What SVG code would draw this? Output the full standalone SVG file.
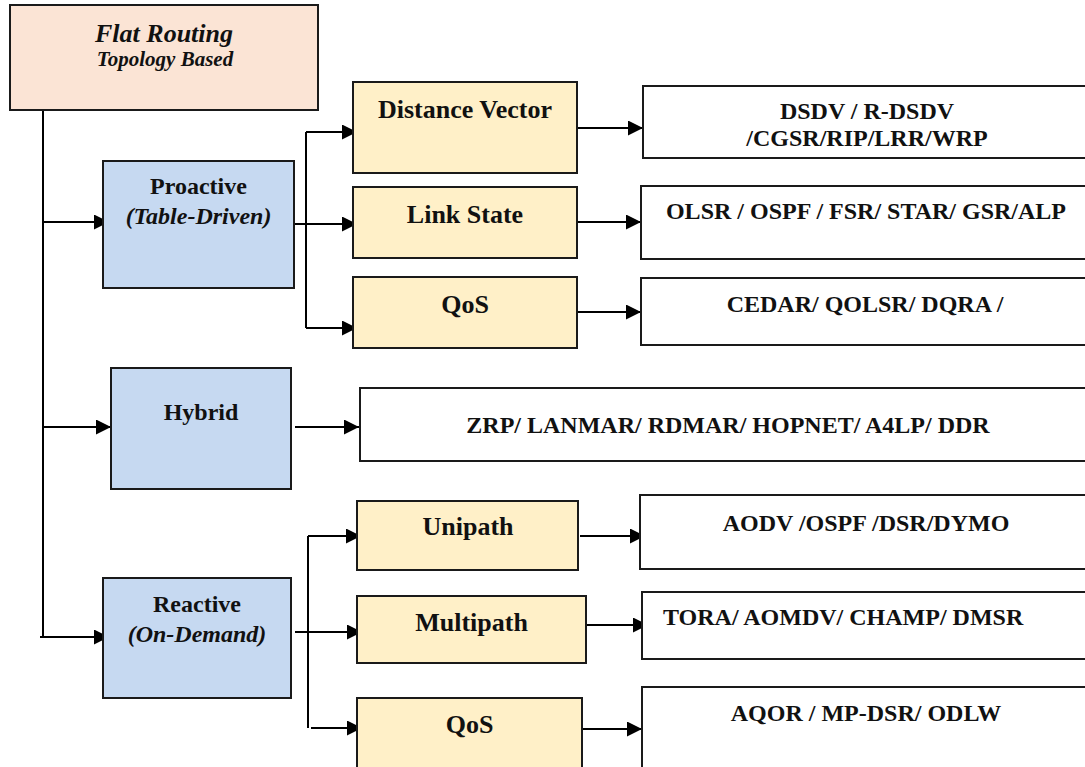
<svg xmlns="http://www.w3.org/2000/svg" width="1085" height="767" viewBox="0 0 1085 767">
  <style>
    .box { stroke: #1a1a1a; stroke-width: 2; }
    .root { fill: #fbe4d5; }
    .cat { fill: #c6d9f1; }
    .sub { fill: #fff0c8; }
    .list { fill: #ffffff; }
    text { font-family: "Liberation Serif", "Times New Roman", serif; font-weight: bold; fill: #111; text-anchor: middle; }
    .it { font-style: italic; }
    .t24 { font-size: 24px; }
    .t26 { font-size: 26px; }
    .t21 { font-size: 21px; }
    .wire { fill: none; stroke: #000; stroke-width: 2; }
    .arrow { fill: none; stroke: #000; stroke-width: 2; marker-end: url(#head); }
  </style>
  <defs>
    <marker id="head" markerUnits="userSpaceOnUse" markerWidth="15" markerHeight="15" refX="15" refY="7.5" orient="auto">
      <path d="M0,0 L15,7.5 L0,15 z" fill="#000"/>
    </marker>
  </defs>

  <rect width="1085" height="767" fill="#ffffff"/>

  <!-- connectors -->
  <g id="connectors">
    <!-- trunk from the root -->
    <path class="wire" d="M43,110 V637"/>
    <path class="arrow" d="M43,222 H109"/>
    <path class="arrow" d="M43,427 H111"/>
    <path class="arrow" d="M40,637 H109"/>
    <!-- proactive branch -->
    <path class="wire" d="M294,224 H306 M306,132 V328"/>
    <path class="arrow" d="M306,132 H357"/>
    <path class="arrow" d="M306,224 H357"/>
    <path class="arrow" d="M306,328 H357"/>
    <path class="arrow" d="M577,128 H643"/>
    <path class="arrow" d="M577,222 H641"/>
    <path class="arrow" d="M577,312 H641"/>
    <!-- hybrid -->
    <path class="arrow" d="M295,427 H359"/>
    <!-- reactive branch -->
    <path class="wire" d="M308,536 V728"/>
    <path class="arrow" d="M308,536 H361"/>
    <path class="arrow" d="M295,632 H362"/>
    <path class="arrow" d="M311,728 H362"/>
    <path class="arrow" d="M580,536 H645"/>
    <path class="arrow" d="M583,625 H648"/>
    <path class="arrow" d="M578,729 H642"/>
  </g>

  <g id="flat-routing">
    <rect class="box root" x="10" y="5" width="308" height="105"/>
    <text class="it t26" x="164" y="42">Flat Routing</text>
    <text class="it t21" x="165" y="66">Topology Based</text>
  </g>

  <g id="proactive">
    <rect class="box cat" x="103" y="161" width="191" height="127"/>
    <text class="t24" x="198.5" y="194">Proactive</text>
    <text class="it t24" x="198.5" y="224">(Table-Driven)</text>
  </g>

  <g id="hybrid">
    <rect class="box cat" x="111" y="368" width="180" height="121"/>
    <text class="t24" x="201" y="420">Hybrid</text>
  </g>

  <g id="reactive">
    <rect class="box cat" x="103" y="578" width="188" height="120"/>
    <text class="t24" x="197" y="612">Reactive</text>
    <text class="it t24" x="197" y="642">(On-Demand)</text>
  </g>

  <g id="distance-vector">
    <rect class="box sub" x="353" y="82" width="224" height="91"/>
    <text class="t26" x="465" y="118">Distance Vector</text>
  </g>

  <g id="link-state">
    <rect class="box sub" x="353" y="187" width="224" height="71"/>
    <text class="t26" x="465" y="223">Link State</text>
  </g>

  <g id="qos-proactive">
    <rect class="box sub" x="353" y="277" width="224" height="71"/>
    <text class="t26" x="465" y="313">QoS</text>
  </g>

  <g id="unipath">
    <rect class="box sub" x="357" y="501" width="221" height="69"/>
    <text class="t26" x="468" y="535">Unipath</text>
  </g>

  <g id="multipath">
    <rect class="box sub" x="357" y="596" width="229" height="67"/>
    <text class="t26" x="471.5" y="631">Multipath</text>
  </g>

  <g id="qos-reactive">
    <rect class="box sub" x="357" y="698" width="225" height="80"/>
    <text class="t26" x="469.5" y="733">QoS</text>
  </g>

  <g id="dv-protocols">
    <rect class="box list" x="643" y="86" width="450" height="72"/>
    <text class="t24" x="867" y="119">DSDV / R-DSDV</text>
    <text class="t24" x="867" y="146">/CGSR/RIP/LRR/WRP</text>
  </g>

  <g id="ls-protocols">
    <rect class="box list" x="641" y="186" width="450" height="73"/>
    <text class="t24" x="866" y="219">OLSR / OSPF / FSR/ STAR/ GSR/ALP</text>
  </g>

  <g id="qos-proactive-protocols">
    <rect class="box list" x="641" y="278" width="450" height="67"/>
    <text class="t24" x="865" y="312">CEDAR/ QOLSR/ DQRA /</text>
  </g>

  <g id="hybrid-protocols">
    <rect class="box list" x="360" y="388" width="730" height="73"/>
    <text class="t24" x="728" y="433">ZRP/ LANMAR/ RDMAR/ HOPNET/ A4LP/ DDR</text>
  </g>

  <g id="unipath-protocols">
    <rect class="box list" x="640" y="495" width="450" height="74"/>
    <text class="t24" x="866" y="531">AODV /OSPF /DSR/DYMO</text>
  </g>

  <g id="multipath-protocols">
    <rect class="box list" x="642" y="592" width="450" height="67"/>
    <text class="t24" x="663" y="625" text-anchor="start" style="text-anchor:start">TORA/ AOMDV/ CHAMP/ DMSR</text>
  </g>

  <g id="qos-reactive-protocols">
    <rect class="box list" x="642" y="687" width="450" height="90"/>
    <text class="t24" x="866" y="721">AQOR / MP-DSR/ ODLW</text>
  </g>
</svg>
